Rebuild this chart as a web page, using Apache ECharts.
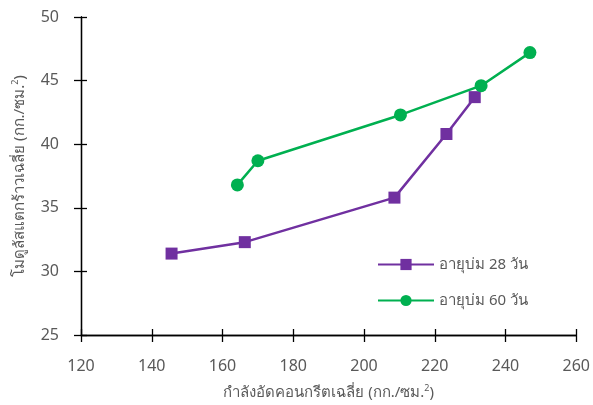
<!DOCTYPE html>
<html>
<head>
<meta charset="utf-8">
<script src="https://cdn.jsdelivr.net/npm/echarts@6/dist/echarts.min.js"></script>
<style>html,body{margin:0;padding:0;background:#fff;}#c{width:593px;height:405px;}</style>
</head>
<body>
<div id="c"></div>
<script>
const seriesNames = ['อายุบ่ม 28 วัน', 'อายุบ่ม 60 วัน'];
const x28 = [145.6, 166.3, 208.6, 223.3, 231.3];
const y28 = [31.4, 32.3, 35.8, 40.8, 43.7];
const x60 = [164.2, 170.0, 210.3, 233.1, 246.9];
const y60 = [36.8, 38.7, 42.3, 44.6, 47.2];
const xTicks = [120, 140, 160, 180, 200, 220, 240, 260];
const yTicks = [25, 30, 35, 40, 45, 50];
const xTitle = 'กำลังอัดคอนกรีตเฉลี่ย (กก./ซม.{sup|2})';
const yTitle = 'โมดูลัสแตกร้าวเฉลี่ย (กก./ซม.{sup|2})';

const FONT = '"Noto Sans", "DejaVu Sans", sans-serif';
const GREY = '#595959';
const rich = { sup: { fontSize: 9, verticalAlign: 'top', padding: [0, 0, 8, 0], color: GREY, fontFamily: FONT } };

const chart = echarts.init(document.getElementById('c'));
const xBase = {
  type: 'value', min: xTicks[0], max: xTicks[xTicks.length - 1], interval: 20,
  splitLine: { show: false },
  axisLine: { show: true, onZero: false, lineStyle: { color: '#000', width: 1.3 } }
};
const yBase = {
  type: 'value', min: yTicks[0], max: yTicks[yTicks.length - 1], interval: 5,
  splitLine: { show: false },
  axisLine: { show: true, onZero: false, lineStyle: { color: '#000', width: 1.3 } }
};
chart.setOption({
  animation: false,
  textStyle: { fontFamily: FONT },
  grid: { left: 81, right: 12, top: 17, bottom: 69 },
  legend: {
    orient: 'vertical', left: 372, top: 252, itemWidth: 56, itemHeight: 14, itemGap: 21,
    textStyle: { fontSize: 15, color: GREY, fontFamily: FONT },
    data: seriesNames
  },
  xAxis: [
    Object.assign({}, xBase, {
      axisTick: { show: true, length: 7, lineStyle: { color: '#000', width: 1.3 } },
      axisLabel: { fontSize: 16, color: GREY, margin: 23 },
      name: xTitle, nameLocation: 'middle', nameGap: 49,
      nameTextStyle: { fontSize: 15, color: GREY, rich: rich }
    }),
    Object.assign({}, xBase, {
      position: 'bottom', offset: 0,
      axisTick: { show: true, inside: true, length: 6, lineStyle: { color: '#000', width: 1.3 } },
      axisLabel: { show: false }
    })
  ],
  yAxis: [
    Object.assign({}, yBase, {
      axisTick: { show: true, length: 7, lineStyle: { color: '#000', width: 1.3 } },
      axisLabel: { fontSize: 16, color: GREY, margin: 22 },
      name: yTitle, nameLocation: 'middle', nameGap: 53,
      nameTextStyle: { fontSize: 15, color: GREY, rich: rich }
    }),
    Object.assign({}, yBase, {
      position: 'left', offset: 0,
      axisTick: { show: true, inside: true, length: 6, lineStyle: { color: '#000', width: 1.3 } },
      axisLabel: { show: false }
    })
  ],
  series: [
    {
      name: seriesNames[0], type: 'line', xAxisIndex: 0, yAxisIndex: 0,
      data: x28.map((v, i) => [v, y28[i]]),
      symbol: 'rect', symbolSize: 12,
      lineStyle: { color: '#7030A0', width: 2.5 },
      itemStyle: { color: '#7030A0' }
    },
    {
      name: seriesNames[1], type: 'line', xAxisIndex: 0, yAxisIndex: 0,
      data: x60.map((v, i) => [v, y60[i]]),
      symbol: 'circle', symbolSize: 13,
      lineStyle: { color: '#00B050', width: 2.5 },
      itemStyle: { color: '#00B050' }
    }
  ]
});
</script>
</body>
</html>
